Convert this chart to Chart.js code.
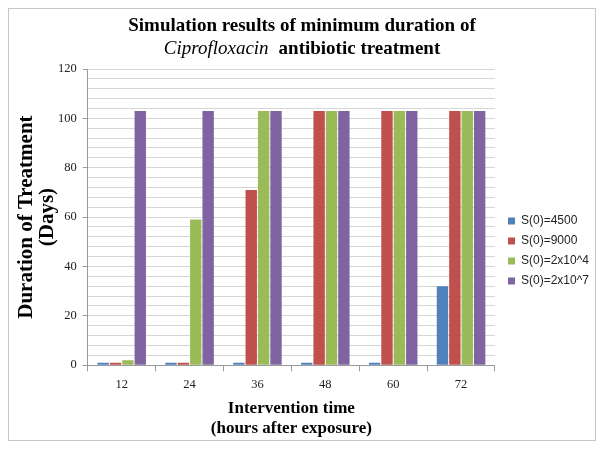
<!DOCTYPE html>
<html>
<head>
  <title>Ciprofloxacin treatment duration</title>
  <style>
    body {
      margin: 0;
      padding: 0;
      background-color: #fff;
    }

    #wrap {
      position: relative;
      width: 604px;
      height: 451px;
    }
  </style>
</head>
<body>

<div id="wrap">
  <canvas id="myChart"></canvas>
</div>

<script src="https://cdn.jsdelivr.net/npm/chart.js"></script>
<script>
  // intervention times (hours after exposure)
  const categories = ['12', '24', '36', '48', '60', '72'];

  // duration of treatment (days) per initial bacterial load
  const s4500 = [1, 1, 1, 1, 1, 32];
  const s9000 = [1, 1, 71, 103, 103, 103];
  const s2e4 = [2, 59, 103, 103, 103, 103];
  const s2e7 = [103, 103, 103, 103, 103, 103];

  const seriesNames = ['S(0)=4500', 'S(0)=9000', 'S(0)=2x10^4', 'S(0)=2x10^7'];
  const seriesColors = ['#4F81BD', '#C0504D', '#9BBB59', '#8064A2'];

  const titleLine1 = 'Simulation results of minimum duration of';
  const titleItalic = 'Ciprofloxacin';
  const titleRest = 'antibiotic treatment';

  const serif = "'Liberation Serif', 'Times New Roman', serif";

  // border of the chart area + two line title with an italic word
  const frameAndTitle = {
    id: 'frameAndTitle',
    beforeDraw(chart) {
      const ctx = chart.ctx;
      ctx.save();
      ctx.fillStyle = '#fff';
      ctx.fillRect(0, 0, chart.width, chart.height);
      ctx.strokeStyle = '#c6c6c6';
      ctx.lineWidth = 1;
      ctx.strokeRect(8.5, 8.5, 587, 432);
      ctx.restore();
    },
    afterDraw(chart) {
      const ctx = chart.ctx;
      const cx = 302;
      ctx.save();
      ctx.fillStyle = '#000';
      ctx.textBaseline = 'middle';
      ctx.textAlign = 'left';

      ctx.font = 'bold 19px ' + serif;
      const w1 = ctx.measureText(titleLine1).width;
      ctx.fillText(titleLine1, cx - w1 / 2, 26);

      ctx.font = 'italic 19px ' + serif;
      const wi = ctx.measureText(titleItalic).width;
      ctx.font = 'bold 19px ' + serif;
      const gap = 10;
      const wr = ctx.measureText(titleRest).width;
      let x = cx - (wi + gap + wr) / 2;
      ctx.font = 'italic 19px ' + serif;
      ctx.fillText(titleItalic, x, 49);
      ctx.font = 'bold 19px ' + serif;
      ctx.fillText(titleRest, x + wi + gap, 49);
      ctx.restore();
    },
    afterLayout(chart) {
      // move legend down next to the lower half of the plot
      const lg = chart.legend;
      const dy = 251 - (lg.top + lg.bottom) / 2;
      lg.top += dy;
      lg.bottom += dy;
      lg.left += 5;
      lg.right += 5;
    }
  };

  const ctx = document.getElementById('myChart').getContext('2d');
  const myChart = new Chart(ctx, {
    type: 'bar',
    data: {
      labels: categories,
      datasets: [s4500, s9000, s2e4, s2e7].map((vals, i) => ({
        label: seriesNames[i],
        data: vals,
        backgroundColor: seriesColors[i],
        borderWidth: 0,
        barPercentage: 0.92,
        categoryPercentage: 0.73
      }))
    },
    options: {
      responsive: true,
      maintainAspectRatio: false,
      animation: false,
      layout: {
        padding: { top: 69, left: 16, right: 10, bottom: 12 }
      },
      scales: {
        x: {
          grid: {
            drawOnChartArea: false,
            color: '#9a9a9a',
            tickLength: 6
          },
          border: { color: '#9a9a9a' },
          ticks: {
            color: '#222',
            padding: 6,
            font: { family: serif, size: 12.5 }
          },
          title: {
            display: true,
            text: ['Intervention time', '(hours after exposure)'],
            color: '#000',
            padding: { top: 0, bottom: 0 },
            font: { family: serif, size: 17, weight: 'bold', lineHeight: 1.2 }
          }
        },
        y: {
          min: 0,
          max: 120,
          grid: {
            color: '#d6d6d6',
            tickLength: 5,
            tickColor: (c) => (c.tick && c.tick.value % 20 === 0 ? '#9a9a9a' : 'rgba(0,0,0,0)')
          },
          border: { color: '#9a9a9a' },
          ticks: {
            stepSize: 4,
            autoSkip: false,
            color: '#222',
            padding: 6,
            font: { family: serif, size: 12.5 },
            callback: (v) => (v % 20 === 0 ? v : '')
          },
          title: {
            display: true,
            text: ['Duration of Treatment', '(Days)'],
            color: '#000',
            padding: { top: 0, bottom: -6 },
            font: { family: serif, size: 21, weight: 'bold', lineHeight: 1.0 }
          }
        }
      },
      plugins: {
        legend: {
          position: 'right',
          labels: {
            boxWidth: 7,
            boxHeight: 7,
            padding: 8,
            color: '#222',
            font: { family: "'Liberation Sans', Arial, sans-serif", size: 12 }
          }
        },
        tooltip: { enabled: false }
      }
    },
    plugins: [frameAndTitle]
  });
</script>
</body>
</html>
